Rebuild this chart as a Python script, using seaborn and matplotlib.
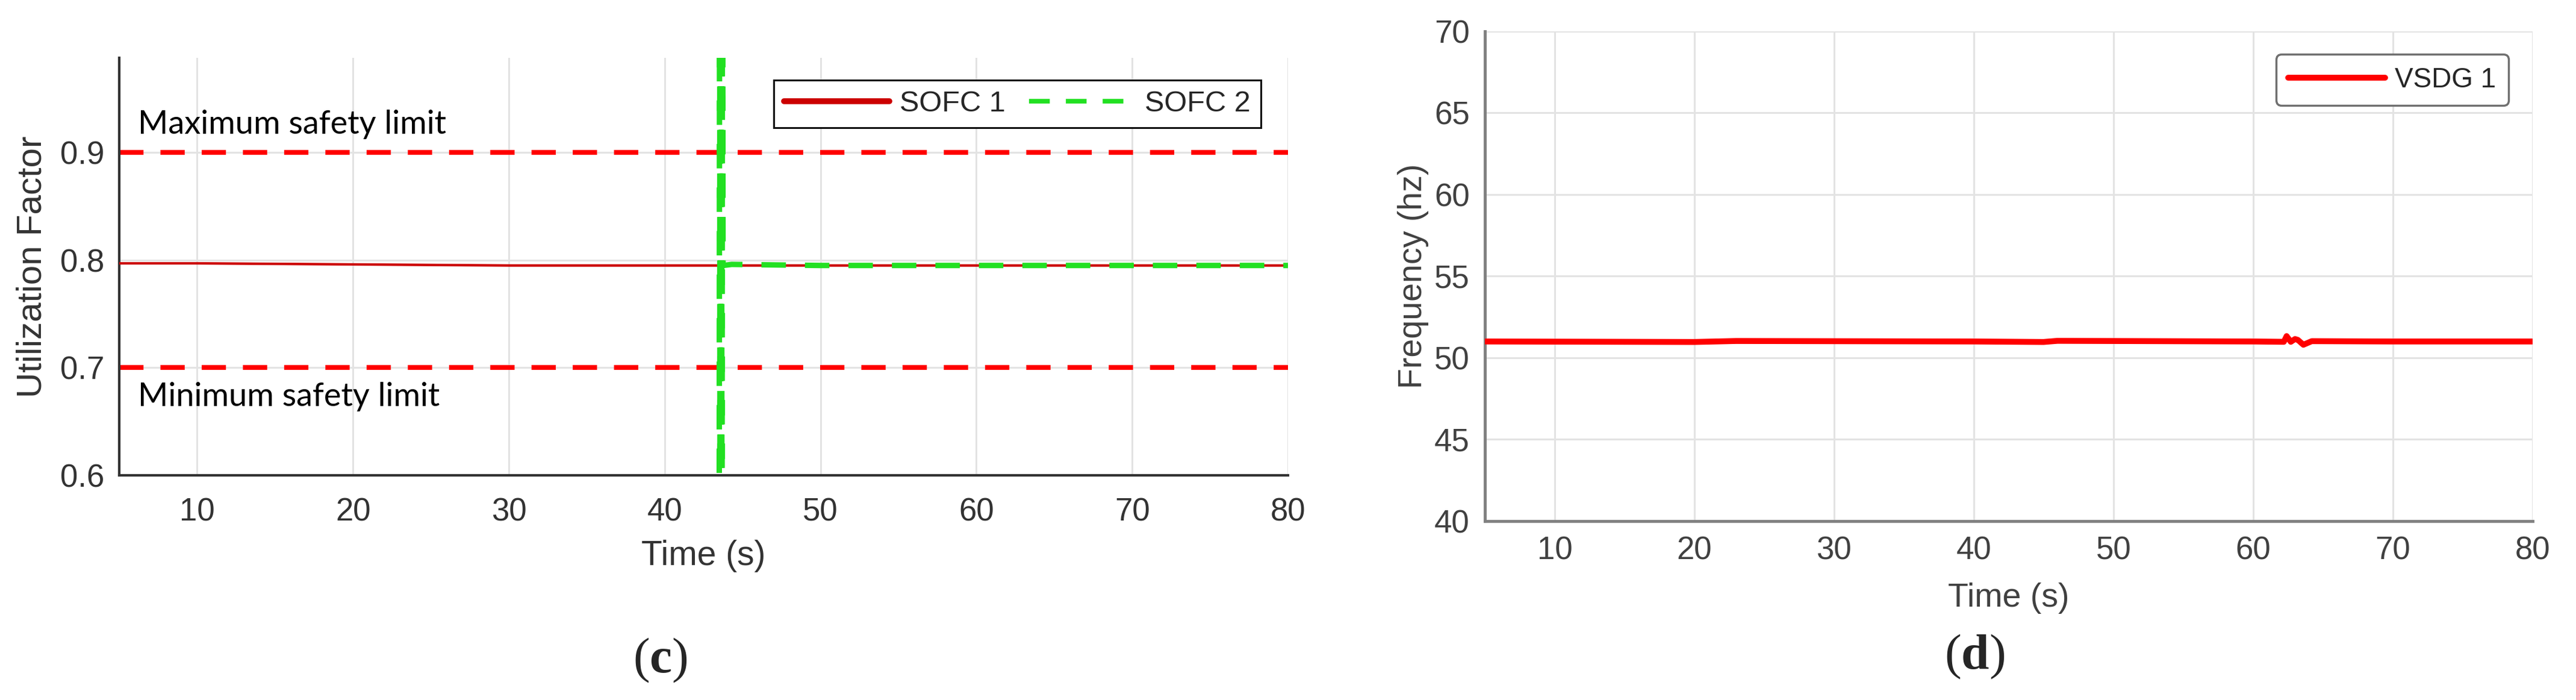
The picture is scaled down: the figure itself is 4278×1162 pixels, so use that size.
import matplotlib
matplotlib.use("Agg")
import matplotlib.pyplot as plt
import seaborn as sns

# values
t_sofc1 = [5, 10, 20, 30, 40, 43.6, 50, 60, 70, 80]
u_sofc1 = [0.797, 0.797, 0.796, 0.795, 0.795, 0.795, 0.795, 0.795, 0.795, 0.795]

t_sofc2 = [43.5, 43.53, 43.56, 43.59, 43.62, 43.65, 43.68, 43.71, 43.75, 44.3, 50, 60, 70, 80]
u_sofc2 = [0.40, 1.20, 0.40, 1.20, 0.40, 1.20, 0.40, 1.20, 0.795, 0.796, 0.795, 0.795, 0.795, 0.795]

safety_limits = [0.9, 0.7]
limit_labels = ["Maximum safety limit", "Minimum safety limit"]

t_vsdg = [5, 20, 23, 40, 45, 46, 60, 62.2, 62.4, 62.7, 63.0, 63.2, 63.6, 64.2, 70, 80]
f_vsdg = [51.0, 50.97, 51.03, 51.0, 50.97, 51.04, 51.0, 50.98, 51.33, 50.98,
          51.15, 51.1, 50.8, 51.02, 51.0, 51.0]

x_ticks = [10, 20, 30, 40, 50, 60, 70, 80]
util_ticks = [0.6, 0.7, 0.8, 0.9]
freq_ticks = [40, 45, 50, 55, 60, 65, 70]

sns.set_style("whitegrid")
plt.rcParams['font.family'] = ['Liberation Sans', 'DejaVu Sans']
plt.rcParams['mathtext.fontset'] = 'custom'
plt.rcParams['mathtext.rm'] = 'Liberation Serif'
plt.rcParams['mathtext.bf'] = 'Liberation Serif:bold'

fig = plt.figure(figsize=(42.78, 11.62), dpi=100)
ax1 = fig.add_axes([0.04628, 0.3210, 0.4537, 0.5964])
ax2 = fig.add_axes([0.5764, 0.2556, 0.4067, 0.6997])


def style_axes(ax, spine_col, tick_col, spine_w):
    ax.set_facecolor("white")
    ax.grid(True, color="#e3e3e3", linewidth=2.2)
    for s in ["top", "right"]:
        ax.spines[s].set_visible(False)
    for s in ["left", "bottom"]:
        ax.spines[s].set_visible(True)
        ax.spines[s].set_color(spine_col)
        ax.spines[s].set_linewidth(spine_w)
    ax.tick_params(direction="in", length=13, width=2, colors=spine_col,
                   labelcolor=tick_col, labelsize=38, pad=18)
    ax.set_axisbelow(True)


# (c) utilization factor
style_axes(ax1, "#333333", "#333333", 3)
for lim in safety_limits:
    ax1.axhline(lim, color="#ff0000", linewidth=5.8, linestyle=(0, (5, 3.5)), zorder=2)
sns.lineplot(x=t_sofc1, y=u_sofc1, ax=ax1, color="#cc0000", linewidth=3,
             label="SOFC 1", estimator=None, sort=False, zorder=3)
sns.lineplot(x=t_sofc2, y=u_sofc2, ax=ax1, color="#22e022", linewidth=6.5,
             linestyle=(0, (4.5, 3.5)), label="SOFC 2", estimator=None,
             sort=False, zorder=4)
ax1.set_xlim(5, 80)
ax1.set_ylim(0.6, 0.988)
ax1.set_xticks(x_ticks)
ax1.set_yticks(util_ticks)
ax1.set_yticklabels([f"{v:.1f}" for v in util_ticks])
ax1.tick_params(axis="x", pad=26)
ax1.text(6.2, 0.926, limit_labels[0], fontsize=39, family=["Lato", "DejaVu Sans"],
         va="center", ha="left", color="black")
ax1.text(6.2, 0.673, limit_labels[1], fontsize=39, family=["Lato", "DejaVu Sans"],
         va="center", ha="left", color="black")
ax1.set_xlabel("Time (s)", fontsize=41, color="#333333")
ax1.set_ylabel("Utilization Factor", fontsize=42, color="#333333")
ax1.xaxis.set_label_coords(0.5, -0.193)
ax1.xaxis.label.set_va("center")
ax1.yaxis.set_label_coords(-0.0742, 0.5)
ax1.yaxis.label.set_va("center")
leg1 = ax1.legend(loc="upper right", bbox_to_anchor=(0.9768, 0.9466), borderaxespad=0,
                  ncol=2, fontsize=35, handlelength=3.6, handletextpad=0.35,
                  columnspacing=0.8, borderpad=0.35, fancybox=False, framealpha=1)
leg1.get_frame().set_edgecolor("#111111")
leg1.get_frame().set_linewidth(2.2)
leg1.get_lines()[0].set_linewidth(7)
leg1.get_lines()[1].set_linewidth(5.5)

# (d) frequency
style_axes(ax2, "#808080", "#404040", 3.5)
sns.lineplot(x=t_vsdg, y=f_vsdg, ax=ax2, color="#ff0000", linewidth=7,
             label="VSDG 1", estimator=None, sort=False, zorder=3)
ax2.set_xlim(5, 80)
ax2.set_ylim(40, 70)
ax2.set_xticks(x_ticks)
ax2.set_yticks(freq_ticks)
ax2.set_xlabel("Time (s)", fontsize=40, color="#404040")
ax2.set_ylabel("Frequency (hz)", fontsize=40, color="#404040")
ax2.xaxis.set_label_coords(0.5, -0.157)
ax2.xaxis.label.set_va("center")
ax2.yaxis.set_label_coords(-0.0684, 0.5)
ax2.yaxis.label.set_va("center")
leg2 = ax2.legend(loc="upper right", bbox_to_anchor=(0.977, 0.953), borderaxespad=0,
                  fontsize=33, handlelength=3.5, handletextpad=0.35, borderpad=0.45,
                  fancybox=True, framealpha=1)
leg2.get_frame().set_edgecolor("#707070")
leg2.get_frame().set_linewidth(2.5)
leg2.get_frame().set_boxstyle("round", pad=0, rounding_size=0.2)

# panel letters
fig.text(0.2564, 0.0568, r"($\mathbf{c}$)", fontsize=60, family="Liberation Serif",
         ha="center", va="center")
fig.text(0.7665, 0.062, r"($\mathbf{d}$)", fontsize=60, family="Liberation Serif",
         ha="center", va="center")

fig.savefig("out.png", dpi=100, facecolor="white")
